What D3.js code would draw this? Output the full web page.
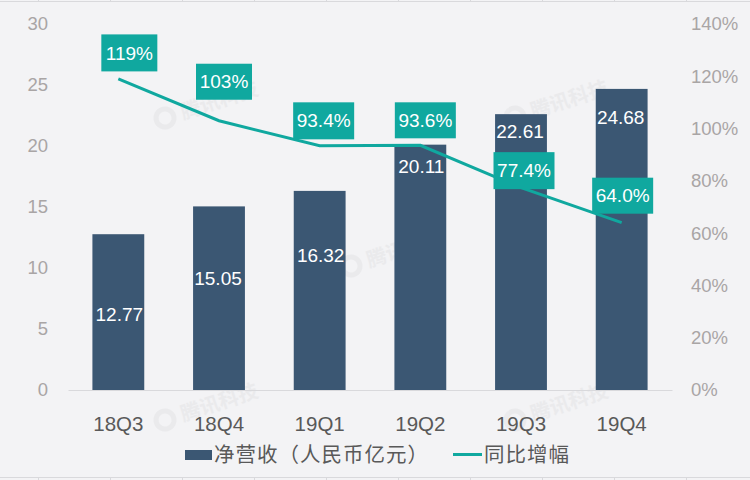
<!DOCTYPE html>
<html>
<head>
<meta charset="utf-8">
<script src="https://cdn.jsdelivr.net/npm/d3@7"></script>
<style>
    html, body { margin: 0; padding: 0; background: #f2f2f4; }
    svg { display: block; }
    text { font-family: "Liberation Sans", Arial, sans-serif; }
    .cjk { font-family: "Noto Sans CJK SC", sans-serif; }
</style>
</head>
<body>
<svg id="chart"></svg>
<script>
// chart data
var categories = ["18Q3", "18Q4", "19Q1", "19Q2", "19Q3", "19Q4"];
var revenue = [12.77, 15.05, 16.32, 20.11, 22.61, 24.68];
var growth = [119, 103, 93.4, 93.6, 77.4, 64.0];
var growthLabels = ["119%", "103%", "93.4%", "93.6%", "77.4%", "64.0%"];
var revenueLabels = ["12.77", "15.05", "16.32", "20.11", "22.61", "24.68"];
var leftTicks = [0, 5, 10, 15, 20, 25, 30];
var rightTicks = [0, 20, 40, 60, 80, 100, 120, 140];
var legendNames = ["净营收（人民币亿元）", "同比增幅"];

var width = 750,
    height = 480;

var colors = {
    bg: "#f3f3f5",
    bar: "#3b5773",
    teal: "#10a89f",
    tick: "#a9a5a5",
    cat: "#595959",
    rule: "#d9d9dc"
};

var svg = d3.select("#chart").attr("width", width).attr("height", height);

svg.append("rect").attr("width", width).attr("height", height).style("fill", colors.bg);

// ruler marks along the top and bottom edge of the screenshot
var edgeTicks = d3.range(38, width, 72);
svg.append("line").attr("x1", 0).attr("x2", width).attr("y1", 1.5).attr("y2", 1.5).style("stroke", colors.rule);
svg.append("line").attr("x1", 0).attr("x2", width).attr("y1", 477.5).attr("y2", 477.5).style("stroke", colors.rule);
svg.selectAll(".edgeTop").data(edgeTicks).enter().append("line")
    .attr("x1", function(d) { return d + 0.5; }).attr("x2", function(d) { return d + 0.5; })
    .attr("y1", 0).attr("y2", 1).style("stroke", colors.rule);
svg.selectAll(".edgeBottom").data(edgeTicks).enter().append("line")
    .attr("x1", function(d) { return d + 0.5; }).attr("x2", function(d) { return d + 0.5; })
    .attr("y1", 478).attr("y2", 480).style("stroke", colors.rule);

// scales
var x = d3.scaleBand().domain(categories).range([68, 672]).paddingInner(0.485).paddingOuter(0.2425);
var yLeft = d3.scaleLinear().domain([0, 30]).range([390, 24]);
var yRight = d3.scaleLinear().domain([0, 140]).range([390, 24]);

function center(d) {
    return x(d) + x.bandwidth() / 2;
}

// watermarks
var marks = [[165, 118], [165, 420], [351, 266], [515, 117], [515, 420]];
var wm = svg.selectAll(".wm").data(marks).enter().append("g")
    .attr("transform", function(d) { return "translate(" + d[0] + "," + d[1] + ") rotate(-18)"; })
    .style("opacity", 0.55);
wm.append("circle").attr("r", 9).style("fill", "none").style("stroke", "#e4e4e6").style("stroke-width", 5);
wm.append("text").attr("class", "cjk").attr("x", 17).attr("y", 7)
    .style("font-size", "20px").style("font-weight", "bold").style("fill", "#e4e4e6")
    .text("腾讯科技");

// axes
var leftAxis = d3.axisLeft(yLeft).tickValues(leftTicks).tickSize(0).tickPadding(20);
var rightAxis = d3.axisRight(yRight).tickValues(rightTicks).tickSize(0).tickPadding(19)
    .tickFormat(function(d) { return d + "%"; });
var bottomAxis = d3.axisBottom(x).tickSize(0).tickPadding(26);

var gl = svg.append("g").attr("transform", "translate(68,0)").call(leftAxis);
var gr = svg.append("g").attr("transform", "translate(672,0)").call(rightAxis);
gl.select(".domain").remove();
gr.select(".domain").remove();
gl.selectAll("text").style("font-size", "18.5px").style("font-family", "Liberation Sans").style("fill", colors.tick);
gr.selectAll("text").style("font-size", "18.5px").style("font-family", "Liberation Sans").style("fill", colors.tick);

// bars
svg.selectAll(".bar").data(revenue).enter().append("rect")
    .attr("class", "bar")
    .attr("x", function(d, i) { return x(categories[i]); })
    .attr("y", function(d) { return yLeft(d); })
    .attr("width", x.bandwidth())
    .attr("height", function(d) { return yLeft(0) - yLeft(d); })
    .style("fill", colors.bar);

var gb = svg.append("g").attr("transform", "translate(0,390)").call(bottomAxis);
gb.select(".domain").style("stroke", colors.rule).style("stroke-width", 1);
gb.selectAll("text").style("font-size", "20.5px").style("font-family", "Liberation Sans").style("fill", colors.cat);

// growth line
var line = d3.line()
    .x(function(d, i) { return center(categories[i]); })
    .y(function(d) { return yRight(d); });

svg.append("path").datum(growth)
    .attr("d", line)
    .style("fill", "none")
    .style("stroke", colors.teal)
    .style("stroke-width", 3);

// bar value labels, hand placed in the original: offset from bar top and from bar centre
var barDy = [80, 72, 64, 22, 17, 28];
var barDx = [1, -1, 1, 1, -1, -1];
svg.selectAll(".barLabel").data(revenue).enter().append("text")
    .attr("x", function(d, i) { return center(categories[i]) + barDx[i]; })
    .attr("y", function(d, i) { return yLeft(d) + barDy[i]; })
    .attr("text-anchor", "middle")
    .attr("dy", "0.35em")
    .style("font-size", "19px")
    .style("fill", "#fff")
    .text(function(d, i) { return revenueLabels[i]; });

// growth value boxes
var boxW = [56, 56, 61, 61, 61, 61];
var boxH = [37, 36, 37, 36, 37, 36];
var boxDx = [11, 5, 4, 5, 3, 1];
var boxDy = [-26, -39, -25, -25, -17, -27];
var boxes = svg.selectAll(".box").data(growth).enter().append("g")
    .attr("transform", function(d, i) {
        return "translate(" + (center(categories[i]) + boxDx[i]) + "," + (yRight(d) + boxDy[i]) + ")";
    });
boxes.append("rect")
    .attr("x", function(d, i) { return -boxW[i] / 2; })
    .attr("y", function(d, i) { return -boxH[i] / 2; })
    .attr("width", function(d, i) { return boxW[i]; })
    .attr("height", function(d, i) { return boxH[i]; })
    .style("fill", colors.teal);
boxes.append("text")
    .attr("text-anchor", "middle")
    .attr("dy", "0.35em")
    .style("font-size", "19px")
    .style("fill", "#fff")
    .text(function(d, i) { return growthLabels[i]; });

// legend
svg.append("rect").attr("x", 185).attr("y", 450).attr("width", 27).attr("height", 10).style("fill", colors.bar);
svg.append("line").attr("x1", 453).attr("x2", 482).attr("y1", 454.5).attr("y2", 454.5)
    .style("stroke", colors.teal).style("stroke-width", 3);
svg.selectAll(".legendText").data(legendNames).enter().append("text")
    .attr("class", "cjk")
    .attr("x", function(d, i) { return i === 0 ? 214 : 484; })
    .attr("y", 462)
    .style("font-size", "20.5px")
    .style("letter-spacing", "1px")
    .style("fill", colors.cat)
    .text(function(d) { return d; });
</script>
</body>
</html>
